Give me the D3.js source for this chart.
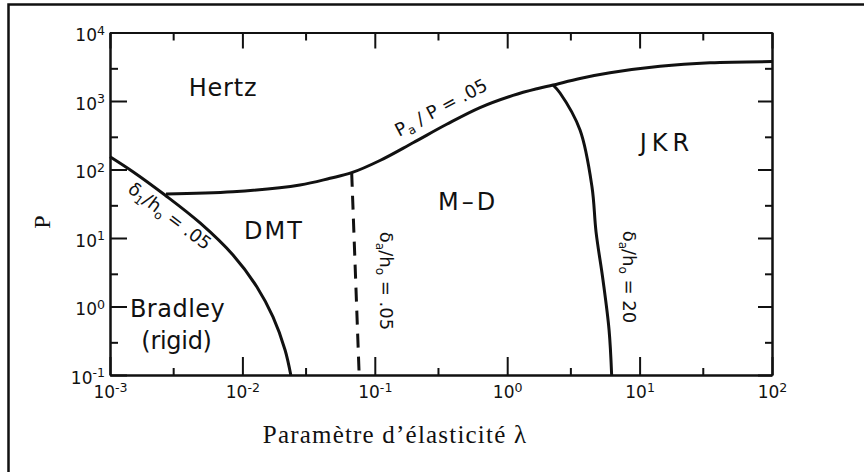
<!DOCTYPE html>
<html>
<head>
<meta charset="utf-8">
<script src="https://cdn.jsdelivr.net/npm/d3@7"></script>
<style>
  html, body { margin: 0; padding: 0; background: #fff; }
  svg { display: block; }
</style>
</head>
<body>
<svg id="chart" width="864" height="472"></svg>
<script>
// Adhesion map: regimes of contact mechanics vs. load P and elasticity parameter lambda

// Axis ticks (log decades and the 3x intermediate marks)
const xDecades = [1e-3, 1e-2, 1e-1, 1e0, 1e1, 1e2];
const xMinor   = [3e-3, 3e-2, 3e-1, 3e0, 3e1];
const yDecades = [1e-1, 1e0, 1e1, 1e2, 1e3, 1e4];
const yMinor   = [3e-1, 3e0, 3e1, 3e2, 3e3];

// Boundary Pa/P = .05 (Hertz above)  [lambda, P]
const hertzBoundary = [
  [0.00265, 43.9], [0.00849, 47.4], [0.0272, 59.4], [0.0459, 74.4],
  [0.0669, 89.8], [0.1094, 135.3], [0.1943, 245.4], [0.3493, 457],
  [0.623, 801], [1.106, 1207], [1.68, 1512], [2.22, 1712],
  [3.546, 2131], [5.975, 2580], [14.26, 3211], [34.0, 3612],
  [100, 3761]
];
// Boundary delta1/h0 = .05 (Bradley rigid limit)
const rigidBoundary = [
  [0.001, 153.8], [0.00149, 92.9], [0.0026, 42.4], [0.00479, 16.6],
  [0.00849, 5.65], [0.01288, 1.93], [0.01702, 0.703], [0.0210, 0.232],
  [0.0232, 0.1]
];
// Boundary deltaa/h0 = .05 (DMT / M-D), dashed
const dmtBoundary = [[0.0669, 89.8], [0.0762, 0.1]];
// Boundary deltaa/h0 = 20 (M-D / JKR)
const jkrBoundary = [
  [2.22, 1712], [2.506, 1309], [3.548, 377], [4.37, 55.6],
  [4.69, 12.2], [5.29, 2.44], [5.88, 0.454], [6.15, 0.1]
];

// Regime names and where they sit on the map
const regionNames  = ["Hertz", "DMT", "M\u2013D", "JKR", "Bradley", "(rigid)"];
const regionLambda = [0.00714, 0.01734, 0.506, 16.1, 0.00324, 0.00318];
const regionP      = [1574, 13.1, 33.9, 248, 0.95, 0.324];

const W = 864, H = 472;
const m = { left: 110, right: 772, top: 32.5, bottom: 375 };
const ink = "#111";
const labelFont = "'DejaVu Sans', sans-serif";
const serifFont = "'Liberation Serif', 'Times New Roman', serif";

const x = d3.scaleLog().domain([1e-3, 1e2]).range([m.left, m.right]);
const y = d3.scaleLog().domain([1e-1, 1e4]).range([m.bottom, m.top]);

const svg = d3.select("#chart");

// Outer frame (top and left edges of the figure box)
svg.append("path")
  .attr("d", `M8.5,${H} V4.5 H${W}`)
  .attr("fill", "none").attr("stroke", ink).attr("stroke-width", 2.5);

function styleAxis(g) {
  g.select(".domain").attr("stroke", ink).attr("stroke-width", 2);
  g.selectAll(".tick line").attr("stroke", ink).attr("stroke-width", 2);
  g.attr("font-family", labelFont).attr("font-size", 17);
}
function powerLabel(g) {
  g.selectAll(".tick text").each(function (d) {
    const t = d3.select(this).attr("fill", ink);
    t.text(null);
    t.append("tspan").text("10");
    t.append("tspan").attr("dy", "-0.5em").attr("font-size", "0.74em")
      .text(String(Math.round(Math.log10(d))));
  });
}

// Bottom axis
svg.append("g").attr("transform", `translate(0,${m.bottom})`)
  .call(d3.axisBottom(x).tickValues(xMinor).tickSize(-7).tickSizeOuter(0).tickFormat(() => ""))
  .call(styleAxis);
svg.append("g").attr("transform", `translate(0,${m.bottom})`)
  .call(d3.axisBottom(x).tickValues(xDecades).tickSize(-18).tickSizeOuter(0).tickPadding(11).tickFormat(() => ""))
  .call(styleAxis).call(powerLabel);

// Top axis
svg.append("g").attr("transform", `translate(0,${m.top})`)
  .call(d3.axisTop(x).tickValues(xMinor).tickSize(-8).tickSizeOuter(0).tickFormat(() => ""))
  .call(styleAxis);
svg.append("g").attr("transform", `translate(0,${m.top})`)
  .call(d3.axisTop(x).tickValues(xDecades).tickSize(-16).tickSizeOuter(0).tickFormat(() => ""))
  .call(styleAxis);

// Left axis
svg.append("g").attr("transform", `translate(${m.left},0)`)
  .call(d3.axisLeft(y).tickValues(yMinor).tickSize(-8).tickSizeOuter(0).tickFormat(() => ""))
  .call(styleAxis);
const gl = svg.append("g").attr("transform", `translate(${m.left},0)`)
  .call(d3.axisLeft(y).tickValues(yDecades).tickSize(-17).tickSizeOuter(0).tickPadding(5).tickFormat(() => ""))
  .call(styleAxis).call(powerLabel);
gl.selectAll(".tick text").attr("dy", "0.48em");

// Right axis
svg.append("g").attr("transform", `translate(${m.right},0)`)
  .call(d3.axisRight(y).tickValues(yMinor).tickSize(-7).tickSizeOuter(0).tickFormat(() => ""))
  .call(styleAxis);
svg.append("g").attr("transform", `translate(${m.right},0)`)
  .call(d3.axisRight(y).tickValues(yDecades).tickSize(-14).tickSizeOuter(0).tickFormat(() => ""))
  .call(styleAxis);

// Regime boundaries
const line = d3.line()
  .x(d => x(d[0])).y(d => y(d[1]))
  .curve(d3.curveCatmullRom.alpha(0.5));

const curves = svg.append("g").attr("fill", "none").attr("stroke", ink)
  .attr("stroke-width", 3).attr("stroke-linejoin", "round");
curves.append("path").attr("d", line(hertzBoundary));
curves.append("path").attr("d", line(rigidBoundary));
curves.append("path").attr("d", line(jkrBoundary));
curves.append("path").attr("d", line(dmtBoundary)).attr("stroke-dasharray", "14,9");

// Regime names
const spacing = { "Hertz": 0.8, "DMT": 2, "M\u2013D": 3, "JKR": 5, "Bradley": 0.5, "(rigid)": -0.3 };
svg.append("g").attr("font-family", labelFont).attr("font-size", 24).attr("fill", ink)
  .selectAll("text").data(regionNames).join("text")
  .attr("x", (d, i) => x(regionLambda[i]))
  .attr("y", (d, i) => y(regionP[i]))
  .attr("dy", "0.36em")
  .attr("text-anchor", "middle")
  .attr("letter-spacing", d => spacing[d])
  .text(d => d);

// Boundary labels with subscripts (parts: [text, isSubscript])
function boundaryLabel(lam, p, angle, parts) {
  const t = svg.append("text")
    .attr("transform", `translate(${x(lam)},${y(p)}) rotate(${angle})`)
    .attr("text-anchor", "middle").attr("dy", "0.35em")
    .attr("font-family", labelFont).attr("font-size", 18).attr("fill", ink);
  let shift = 0;
  parts.forEach(([s, sub]) => {
    const target = sub ? 4 : 0;
    const ts = t.append("tspan").attr("dy", target - shift).text(s);
    if (sub) ts.attr("font-size", 12);
    shift = target;
  });
}
boundaryLabel(0.333, 668, -28, [["P"], ["a", 1], [" / P = .05"]]);
boundaryLabel(0.00265, 17.7, 37, [["\u03b4"], ["1", 1], ["/h"], ["o", 1], [" = .05"]]);
boundaryLabel(0.1094, 2.36, 90, [["\u03b4"], ["a", 1], ["/h"], ["o", 1], [" = .05"]]);
boundaryLabel(7.5, 2.70, 90, [["\u03b4"], ["a", 1], ["/h"], ["o", 1], [" = 20"]]);

// Axis titles
svg.append("text")
  .attr("transform", `translate(42,222) rotate(-90)`)
  .attr("text-anchor", "middle").attr("dy", "0.35em")
  .attr("font-family", serifFont).attr("font-size", 24).attr("fill", ink)
  .text("P");
svg.append("text")
  .attr("x", 395).attr("y", 443)
  .attr("text-anchor", "middle")
  .attr("font-family", serifFont).attr("font-size", 25).attr("letter-spacing", 1.2)
  .attr("fill", ink)
  .text("Param\u00e8tre d\u2019\u00e9lasticit\u00e9 \u03bb");
</script>
</body>
</html>
